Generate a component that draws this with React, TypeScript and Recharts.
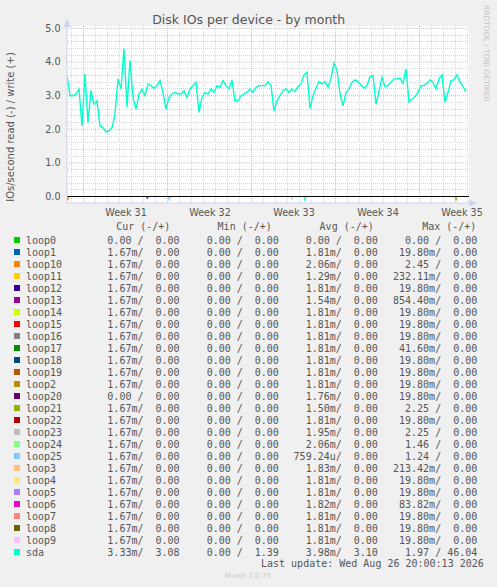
import { LineChart, Line, XAxis, YAxis, ReferenceLine, ReferenceArea } from 'recharts';

// sda write IOs/s, one sample every 6 hours across the month view
const sdaWrite = [
  3.6, 3.0, 3.0, 3.05, 3.2, 2.1, 3.65, 2.2, 3.15, 2.75, 2.85, 2.1, 2.05, 1.92, 1.95, 2.05,
  2.45, 3.5, 3.2, 4.4, 2.65, 4.05, 2.95, 2.6, 3.05, 3.2, 3.0, 3.35, 3.3, 3.22, 3.3, 3.45,
  3.1, 2.6, 2.95, 3.05, 3.1, 3.05, 3.05, 3.15, 2.95, 3.2, 3.3, 3.4, 2.5, 2.95, 3.1, 3.05,
  3.2, 3.1, 3.3, 3.25, 3.45, 3.3, 3.2, 3.47, 2.85, 2.85, 3.0, 3.05, 3.1, 3.2, 3.1, 3.25,
  3.3, 3.3, 3.3, 3.42, 3.3, 2.55, 2.85, 3.0, 3.15, 3.2, 3.1, 3.2, 3.12, 3.27, 3.35, 3.62,
  3.7, 2.62, 3.0, 3.22, 3.42, 3.35, 3.42, 3.25, 3.52, 3.97, 3.75, 3.07, 2.7, 3.1, 3.2, 3.4,
  3.47, 3.42, 3.32, 3.22, 3.3, 3.57, 3.6, 2.75, 3.12, 3.55, 3.27, 3.3, 3.4, 3.5, 3.5, 3.52,
  3.37, 3.8, 2.82, 2.9, 2.97, 3.1, 3.3, 3.3, 3.37, 3.47, 3.4, 3.2, 3.5, 3.62, 2.8, 3.1,
  3.45, 3.47, 3.62, 3.42, 3.27, 3.12,
];

// small read (negative) spikes visible under the zero line
const readDips = [
  { device: 'loop10', at: 0.3, value: -0.11 },
  { device: 'loop13', at: 26.8, value: -0.07 },
  { device: 'loop25', at: 34.1, value: -0.12 },
  { device: 'loop24', at: 74.9, value: -0.09 },
  { device: 'sda', at: 79.3, value: -0.12 },
  { device: 'loop21', at: 129.7, value: -0.12 },
];

const weekLabels = ['Week 31', 'Week 32', 'Week 33', 'Week 34', 'Week 35'];
const weekTicks = [19.67, 47.67, 75.67, 103.67, 131.67];
const weekLines = [5.5, 33.5, 61.5, 89.5, 117.5];
const yTicks = [0, 1, 2, 3, 4, 5];

const devices = [
  'loop0', 'loop1', 'loop10', 'loop11', 'loop12', 'loop13', 'loop14', 'loop15', 'loop16',
  'loop17', 'loop18', 'loop19', 'loop2', 'loop20', 'loop21', 'loop22', 'loop23', 'loop24',
  'loop25', 'loop3', 'loop4', 'loop5', 'loop6', 'loop7', 'loop8', 'loop9', 'sda',
];
const deviceColors = [
  '#00cc00', '#0066b3', '#ff8000', '#ffcc00', '#330099', '#990099', '#ccff00', '#ff0000', '#808080',
  '#008f00', '#00487d', '#b35a00', '#b38f00', '#6b006b', '#8fb300', '#b30000', '#bebebe', '#80ff80',
  '#80c9ff', '#ffc080', '#ffe680', '#aa80ff', '#ee00cc', '#ff8080', '#666600', '#ffbfff', '#00ffcc',
];
const curCol = [
  '0.00 /  0.00', '1.67m/  0.00', '1.67m/  0.00', '1.67m/  0.00', '1.67m/  0.00', '1.67m/  0.00',
  '1.67m/  0.00', '1.67m/  0.00', '1.67m/  0.00', '1.67m/  0.00', '1.67m/  0.00', '1.67m/  0.00',
  '1.67m/  0.00', '0.00 /  0.00', '1.67m/  0.00', '1.67m/  0.00', '1.67m/  0.00', '1.67m/  0.00',
  '1.67m/  0.00', '1.67m/  0.00', '1.67m/  0.00', '1.67m/  0.00', '1.67m/  0.00', '1.67m/  0.00',
  '1.67m/  0.00', '1.67m/  0.00', '3.33m/  3.08',
];
const minCol = [
  '0.00 /  0.00', '0.00 /  0.00', '0.00 /  0.00', '0.00 /  0.00', '0.00 /  0.00', '0.00 /  0.00',
  '0.00 /  0.00', '0.00 /  0.00', '0.00 /  0.00', '0.00 /  0.00', '0.00 /  0.00', '0.00 /  0.00',
  '0.00 /  0.00', '0.00 /  0.00', '0.00 /  0.00', '0.00 /  0.00', '0.00 /  0.00', '0.00 /  0.00',
  '0.00 /  0.00', '0.00 /  0.00', '0.00 /  0.00', '0.00 /  0.00', '0.00 /  0.00', '0.00 /  0.00',
  '0.00 /  0.00', '0.00 /  0.00', '0.00 /  1.39',
];
const avgCol = [
  '0.00 /  0.00', '1.81m/  0.00', '2.06m/  0.00', '1.29m/  0.00', '1.81m/  0.00', '1.54m/  0.00',
  '1.81m/  0.00', '1.81m/  0.00', '1.81m/  0.00', '1.81m/  0.00', '1.81m/  0.00', '1.81m/  0.00',
  '1.81m/  0.00', '1.76m/  0.00', '1.50m/  0.00', '1.81m/  0.00', '1.95m/  0.00', '2.06m/  0.00',
  '759.24u/  0.00', '1.83m/  0.00', '1.81m/  0.00', '1.81m/  0.00', '1.82m/  0.00', '1.81m/  0.00',
  '1.81m/  0.00', '1.81m/  0.00', '3.98m/  3.10',
];
const maxCol = [
  '0.00 /  0.00', '19.80m/  0.00', '2.45 /  0.00', '232.11m/  0.00', '19.80m/  0.00', '854.40m/  0.00',
  '19.80m/  0.00', '19.80m/  0.00', '19.80m/  0.00', '41.60m/  0.00', '19.80m/  0.00', '19.80m/  0.00',
  '19.80m/  0.00', '19.80m/  0.00', '2.25 /  0.00', '19.80m/  0.00', '2.25 /  0.00', '1.46 /  0.00',
  '1.24 /  0.00', '213.42m/  0.00', '19.80m/  0.00', '19.80m/  0.00', '83.82m/  0.00', '19.80m/  0.00',
  '19.80m/  0.00', '19.80m/  0.00', '1.97 / 46.04',
];

const W = 497;
const H = 587;
const TEXT = '#555555';
const SANS = "'DejaVu Sans', sans-serif";
const MONO = "'DejaVu Sans Mono', monospace";
const AXIS = '#cdd3f5';
const MINOR = '#d6d6d6';
const MAJOR = '#eab3b3';

// y scale: 33.6 px per unit, zero on a half pixel so lines stay crisp
const PX = 33.6;
const Y_MIN = -6.5 / PX;
const Y_MAX = 5 + 2.5 / PX;
const snapY = (v: number) => Math.round(v * PX) / PX;

// grid positions: daily minor lines, 0.2 minor steps vertically
const minorX = Array.from({ length: 34 }, (_, k) => 1.5 + 4 * k);
const minorY = Array.from({ length: 25 }, (_, k) => 0.2 + 0.2 * k)
  .filter((v) => Math.abs(v - Math.round(v)) > 0.01)
  .map(snapY);

const nb = (s: string) => s.replace(/ /g, '\u00a0');

const WeekTick = ({ x, y, payload }: any) => {
  const idx = weekTicks.indexOf(payload.value);
  return (
    <text x={x} y={y + 13.3} textAnchor="middle" fill={TEXT} fontSize={9.6} fontFamily={SANS}>
      {weekLabels[idx]}
    </text>
  );
};

const ValueTick = ({ x, y, payload }: any) => (
  <text x={x} y={y + 3.3} textAnchor="end" fill={TEXT} fontSize={9.6} fontFamily={SANS}>
    {payload.value.toFixed(1)}
  </text>
);

export default function App() {
  const data = sdaWrite.map((v, i) => ({ i, sda: v }));
  const cols = [
    { values: curCol, end: 179.6, head: 'Cur (-/+)', headX: 116.2 },
    { values: minCol, end: 278.9, head: 'Min (-/+)', headX: 217.6 },
    { values: avgCol, end: 377.9, head: 'Avg (-/+)', headX: 319.6 },
    { values: maxCol, end: 477.3, head: 'Max (-/+)', headX: 422.2 },
  ];

  return (
    <div
      style={{
        position: 'absolute',
        left: 0,
        top: 0,
        width: W,
        height: H,
        background: '#f0f0f0',
        overflow: 'hidden',
      }}
    >
      <LineChart
        width={W}
        height={H}
        data={data}
        margin={{ top: 26, right: W - 469, bottom: H - 203 - 30, left: 7 }}
      >
        <ReferenceArea x1={0} x2={134} y1={Y_MIN} y2={Y_MAX} fill="#ffffff" fillOpacity={1} stroke="none" />
        {minorX.map((v) => (
          <ReferenceLine key={`mx${v}`} x={v} stroke={MINOR} strokeDasharray="1 1" />
        ))}
        {minorY.map((v) => (
          <ReferenceLine key={`my${v}`} y={v} stroke={MINOR} strokeDasharray="1 1" />
        ))}
        {weekLines.map((v) => (
          <ReferenceLine key={`wx${v}`} x={v} stroke={MAJOR} strokeDasharray="1 1" />
        ))}
        {yTicks.map((v) => (
          <ReferenceLine key={`gy${v}`} y={v} stroke={MAJOR} strokeDasharray="1 1" />
        ))}
        <XAxis
          type="number"
          dataKey="i"
          domain={[0, 134]}
          ticks={weekTicks}
          tick={<WeekTick />}
          tickLine={false}
          tickSize={0}
          tickMargin={0}
          axisLine={{ stroke: AXIS }}
          allowDataOverflow
        />
        <YAxis
          type="number"
          domain={[Y_MIN, Y_MAX]}
          ticks={yTicks}
          tick={<ValueTick />}
          tickLine={false}
          tickSize={4}
          tickMargin={2.5}
          width={60}
          axisLine={{ stroke: AXIS }}
          allowDataOverflow
        />
        {readDips.map((d) => (
          <Line
            key={`dip-${d.device}`}
            data={[
              { i: d.at - 0.35, v: 0 },
              { i: d.at, v: d.value },
              { i: d.at + 0.35, v: 0 },
            ]}
            dataKey="v"
            stroke={deviceColors[devices.indexOf(d.device)]}
            strokeWidth={1}
            dot={false}
            isAnimationActive={false}
          />
        ))}
        <ReferenceLine y={0} stroke="#000000" strokeWidth={1.2} />
        <Line
          dataKey="sda"
          stroke="#00ffcc"
          strokeWidth={1.4}
          dot={false}
          isAnimationActive={false}
        />
      </LineChart>

      <svg
        width={W}
        height={H}
        style={{ position: 'absolute', left: 0, top: 0, pointerEvents: 'none' }}
      >
        <polygon points="67,19 63.5,27 70.5,27" fill={AXIS} />
        <polygon points="477,203 469,199.5 469,206.5" fill={AXIS} />
        <text x={248.7} y={23.8} textAnchor="middle" fill={TEXT} fontSize={12.5} fontFamily={SANS}>
          Disk IOs per device - by month
        </text>
        <text
          transform="translate(13.6,127) rotate(-90)"
          textAnchor="middle"
          fill={TEXT}
          fontSize={10}
          fontFamily={SANS}
        >
          IOs/second read (-) / write (+)
        </text>
        <text
          transform="translate(484.4,5) rotate(90)"
          textAnchor="start"
          fill="#c4c4c4"
          fontSize={7.5}
          fontFamily={SANS}
        >
          RRDTOOL / TOBI OETIKER
        </text>
        <g fontFamily={MONO} fontSize={10} fill={TEXT}>
          {cols.map((c) => (
            <text key={c.head} x={c.headX} y={230.3}>
              {c.head}
            </text>
          ))}
          {devices.map((name, r) => (
            <g key={name}>
              <rect x={14} y={237 + 12 * r} width={6} height={6} fill={deviceColors[r]} />
              <text x={26} y={243.6 + 12 * r}>
                {name}
              </text>
              {cols.map((c) => (
                <text key={c.head} x={c.end} y={243.6 + 12 * r} textAnchor="end">
                  {nb(c.values[r])}
                </text>
              ))}
            </g>
          ))}
          <text x={261} y={567.4}>
            Last update: Wed Aug 26 20:00:13 2026
          </text>
        </g>
        <text x={247.8} y={578.3} textAnchor="middle" fill="#c8c8c8" fontSize={7} fontFamily={SANS}>
          Munin 2.0.75
        </text>
      </svg>
    </div>
  );
}
